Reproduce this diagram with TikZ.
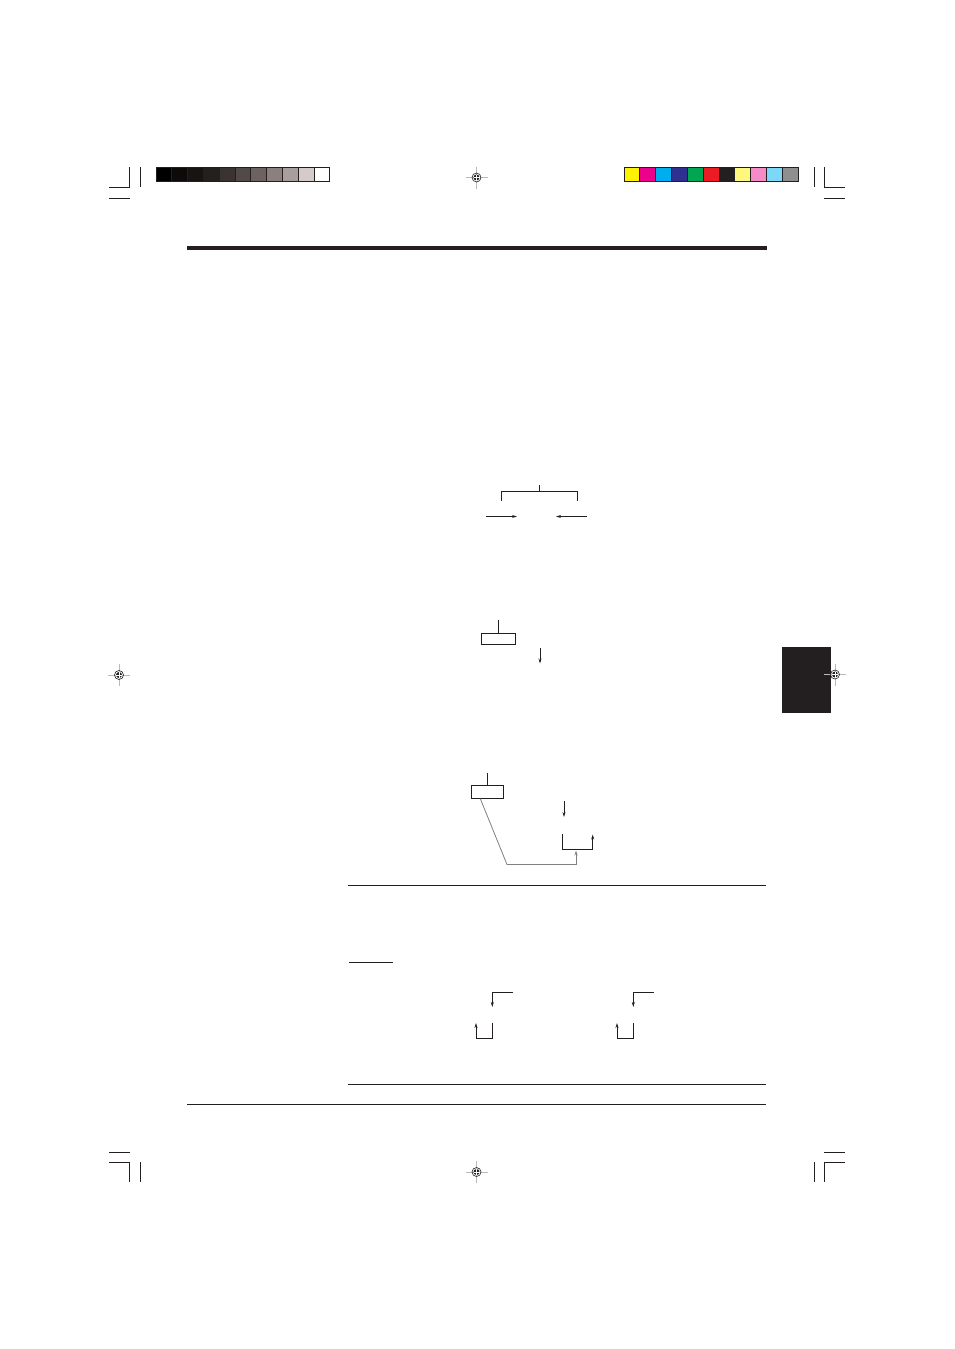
\documentclass[tikz,border=0pt]{standalone}
\usepackage{tikz}
\usetikzlibrary{positioning}
\usetikzlibrary{arrows.meta}
\usepackage{xcolor}

\definecolor{inkblack}{HTML}{231F20}
\definecolor{gA}{HTML}{000000}
\definecolor{gB}{HTML}{0D0B0A}
\definecolor{gC}{HTML}{181413}
\definecolor{gD}{HTML}{24201D}
\definecolor{gE}{HTML}{3B3331}
\definecolor{gF}{HTML}{524A48}
\definecolor{gG}{HTML}{6D625F}
\definecolor{gH}{HTML}{8B807E}
\definecolor{gI}{HTML}{A89E9C}
\definecolor{gJ}{HTML}{D4CBCA}
\definecolor{gK}{HTML}{FFFFFF}
\definecolor{cA}{HTML}{FFF200}
\definecolor{cB}{HTML}{EC008C}
\definecolor{cC}{HTML}{00AEEF}
\definecolor{cD}{HTML}{2E3192}
\definecolor{cE}{HTML}{00A651}
\definecolor{cF}{HTML}{ED1C24}
\definecolor{cG}{HTML}{231F20}
\definecolor{cH}{HTML}{FFF77F}
\definecolor{cI}{HTML}{F68CC6}
\definecolor{cJ}{HTML}{7DD8F8}
\definecolor{cK}{HTML}{8F8F8F}

\tikzset{
  crop/.style={inkblack, line width=0.9pt},
  wire/.style={inkblack, line width=0.8pt},
  arr/.style={wire, -{Stealth[length=5pt,width=3pt]}},
  regmark/.pic={
    \draw[gray!55, line width=0.7pt] (-11,0)--(11,0) (0,-11)--(0,11);
    \draw[inkblack, line width=0.6pt] (0,0) circle [radius=4.5];
    \fill[inkblack] (0,0) circle [radius=3];
    \draw[white, line width=0.6pt] (-3,0)--(3,0) (0,-3)--(0,3);
  }
}

\begin{document}
\begin{tikzpicture}[x=1pt,y=-1pt]

\useasboundingbox[fill=white] (0,0) rectangle (954,1349);

% crop marks
\draw[crop] (109,187)--(129,187)--(129,167);
\draw[crop] (140,167)--(140,187);
\draw[crop] (109,198)--(130,198);

\draw[crop] (845,187)--(824.5,187)--(824.5,167);
\draw[crop] (814.5,167)--(814.5,187);
\draw[crop] (824,198)--(845,198);

\draw[crop] (109,1152)--(130,1152);
\draw[crop] (109,1162)--(129,1162)--(129,1182);
\draw[crop] (140,1162)--(140,1182);

\draw[crop] (824,1152)--(845,1152);
\draw[crop] (845,1162)--(824.5,1162)--(824.5,1182);
\draw[crop] (814.5,1162)--(814.5,1182);

% colour bars
\foreach \c [count=\i from 0] in {gA,gB,gC,gD,gE,gF,gG,gH,gI,gJ,gK}
  \draw[fill=\c, draw=inkblack, line width=0.7pt] (156+\i*15.8,167.5) rectangle ++(15.8,14);

\foreach \c [count=\i from 0] in {cA,cB,cC,cD,cE,cF,cG,cH,cI,cJ,cK}
  \draw[fill=\c, draw=inkblack, line width=0.7pt] (624+\i*15.82,167.5) rectangle ++(15.82,14);

% thumb tab
\fill[inkblack] (781.5,646.5) rectangle (831,712.5);

% registration marks
\pic at (476.5,177.5) {regmark};
\pic at (119,675) {regmark};
\pic at (835,674.5) {regmark};
\pic at (476.5,1172) {regmark};

% rules
\fill[inkblack] (187,246) rectangle (767,250);
\draw[wire] (348,885)--(766,885);
\draw[wire] (349,962)--(393,962);
\draw[wire] (348,1084)--(766,1084);
\draw[wire] (187,1104)--(766,1104);

% first figure
\coordinate (brtop) at (539.5,485);
\coordinate (brmid) at (539.5,491);
\draw[wire] (brtop)--(brmid);
\draw[wire] (501.5,501)--(501.5,491)--(577.5,491)--(577.5,501);
\coordinate (lin) at (486,516.5);
\coordinate (lend) at (517,516.5);
\coordinate (rin) at (587,516.5);
\coordinate (rend) at (556,516.5);
\draw[arr] (lin)--(lend);
\draw[arr] (rin)--(rend);

% second figure
\node[draw=inkblack, line width=0.8pt, minimum width=34pt, minimum height=11pt, inner sep=0pt] (boxa) at (498.3,639) {};
\draw[wire] (boxa.north)--++(0,-13);
\coordinate (downa) at (540,648);
\draw[arr] (downa)--++(0,15.5);

% third figure
\node[draw=inkblack, line width=0.8pt, minimum width=32pt, minimum height=12.5pt, inner sep=0pt] (boxb) at (487.3,792) {};
\draw[wire] (boxb.north)--++(0,-12.5);
\coordinate (downb) at (564,801);
\draw[arr] (downb)--++(0,16);
\coordinate (feed) at (576,864.5);
\draw[gray, line width=0.8pt] ([xshift=-7pt]boxb.south)--(507,864.5)--(feed);
\draw[gray, line width=0.8pt, -{Stealth[length=5pt,width=3pt]}] (feed)--++(0,-14);
\draw[arr] (562.5,834)--(562.5,849.5)--(592.7,849.5)--(592.7,834.5);

% fourth figure
\foreach \dx in {0,141} {
  \draw[arr] (512.7+\dx,992.3)--(492.3+\dx,992.3)--(492.3+\dx,1007);
  \draw[arr] (492.3+\dx,1022.7)--(492.3+\dx,1038.7)--(476+\dx,1038.7)--(476+\dx,1023);
}

\end{tikzpicture}
\end{document}
